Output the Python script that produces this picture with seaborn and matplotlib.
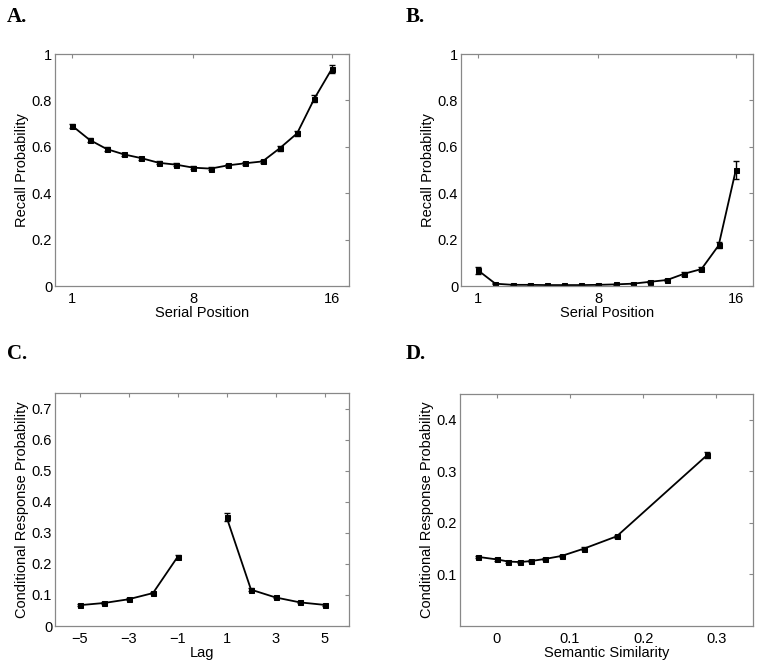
import numpy as np
import pandas as pd
import seaborn as sns
import matplotlib.pyplot as plt

# Panel A: immediate free recall serial position curve
serial_pos = list(range(1, 17))
recall_a = [0.69, 0.63, 0.59, 0.567, 0.551, 0.531, 0.523, 0.510, 0.506, 0.520,
            0.529, 0.537, 0.594, 0.658, 0.808, 0.935]
err_a = [0.010, 0.010, 0.009, 0.008, 0.007, 0.007, 0.006, 0.007, 0.007, 0.006,
         0.006, 0.007, 0.010, 0.011, 0.016, 0.018]

# Panel B: first recall probability
recall_b = [0.067, 0.010, 0.005, 0.005, 0.004, 0.004, 0.004, 0.005, 0.007, 0.010,
            0.018, 0.026, 0.053, 0.073, 0.175, 0.500]
err_b = [0.016, 0.003, 0.002, 0.002, 0.002, 0.002, 0.002, 0.002, 0.002, 0.003,
         0.003, 0.004, 0.009, 0.007, 0.013, 0.038]

# Panel C: lag-CRP
lags = [-5, -4, -3, -2, -1, 1, 2, 3, 4, 5]
crp_c = [0.067, 0.074, 0.086, 0.106, 0.222, 0.351, 0.117, 0.092, 0.076, 0.068]
err_c = [0.003, 0.003, 0.003, 0.004, 0.007, 0.014, 0.004, 0.003, 0.003, 0.003]

# Panel D: semantic CRP
sem_sim = [-0.025, 0.001, 0.016, 0.032, 0.047, 0.066, 0.089, 0.119, 0.164, 0.287]
crp_d = [0.134, 0.129, 0.125, 0.124, 0.126, 0.130, 0.136, 0.150, 0.174, 0.331]
err_d = [0.002, 0.002, 0.002, 0.002, 0.002, 0.002, 0.002, 0.003, 0.003, 0.006]

sns.set_style("white")
plt.rcParams['font.family'] = ['Liberation Sans', 'DejaVu Sans']
plt.rcParams['text.color'] = 'black'
plt.rcParams['axes.labelcolor'] = 'black'

fig = plt.figure(figsize=(7.62, 6.64), dpi=100)
W, H = 762.0, 664.0

def make_ax(l, t, r, b):
    return fig.add_axes([l / W, 1 - b / H, (r - l) / W, (b - t) / H])

axA = make_ax(55, 54, 349, 286)
axB = make_ax(461, 54, 753, 286)
axC = make_ax(55, 393, 349, 626)
axD = make_ax(460, 394, 753, 626)

def draw(ax, x, y, e, group=None):
    df = pd.DataFrame({"x": x, "y": y, "e": e})
    df["g"] = group if group is not None else 0
    for _, sub in df.groupby("g"):
        sns.lineplot(data=sub, x="x", y="y", ax=ax, color="black", lw=1.3,
                     marker="s", markersize=3.6, markeredgecolor="black",
                     estimator=None, sort=False)
    ax.errorbar(df["x"], df["y"], yerr=df["e"], fmt="none", ecolor="black",
                elinewidth=1.0, capsize=2.3, capthick=1.0)

def style(ax):
    for s in ax.spines.values():
        s.set_color("#888888")
        s.set_linewidth(0.9)
    ax.tick_params(direction="in", length=3, width=0.8, color="#888888",
                   labelcolor="black", top=True, right=True, labelsize=10.5)
    ax.tick_params(axis="x", pad=4)
    ax.tick_params(axis="y", pad=2)
    ax.xaxis.labelpad = 0
    ax.yaxis.labelpad = 2

draw(axA, serial_pos, recall_a, err_a)
axA.set_xlim(0, 17)
axA.set_ylim(0, 1)
axA.set_xticks([1, 8, 16])
axA.set_yticks([0, 0.2, 0.4, 0.6, 0.8, 1])
axA.set_yticklabels(["0", "0.2", "0.4", "0.6", "0.8", "1"])
axA.set_xlabel("Serial Position", fontsize=10.5)
axA.set_ylabel("Recall Probability", fontsize=10.5)

draw(axB, serial_pos, recall_b, err_b)
axB.set_xlim(0, 17)
axB.set_ylim(0, 1)
axB.set_xticks([1, 8, 16])
axB.set_yticks([0, 0.2, 0.4, 0.6, 0.8, 1])
axB.set_yticklabels(["0", "0.2", "0.4", "0.6", "0.8", "1"])
axB.set_xlabel("Serial Position", fontsize=10.5)
axB.set_ylabel("Recall Probability", fontsize=10.5)

draw(axC, lags, crp_c, err_c, group=[0 if l < 0 else 1 for l in lags])
axC.set_xlim(-6, 6)
axC.set_ylim(0, 0.75)
axC.set_xticks([-5, -3, -1, 1, 3, 5])
axC.set_xticklabels(["\u22125", "\u22123", "\u22121", "1", "3", "5"])
axC.set_yticks([0, 0.1, 0.2, 0.3, 0.4, 0.5, 0.6, 0.7])
axC.set_yticklabels(["0", "0.1", "0.2", "0.3", "0.4", "0.5", "0.6", "0.7"])
axC.set_xlabel("Lag", fontsize=10.5)
axC.set_ylabel("Conditional Response Probability", fontsize=10.5)

draw(axD, sem_sim, crp_d, err_d)
axD.set_xlim(-0.05, 0.35)
axD.set_ylim(0, 0.45)
axD.set_xticks([0, 0.1, 0.2, 0.3])
axD.set_xticklabels(["0", "0.1", "0.2", "0.3"])
axD.set_yticks([0.1, 0.2, 0.3, 0.4])
axD.set_yticklabels(["0.1", "0.2", "0.3", "0.4"])
axD.set_xlabel("Semantic Similarity", fontsize=10.5)
axD.set_ylabel("Conditional Response Probability", fontsize=10.5)

for ax in (axA, axB, axC, axD):
    style(ax)

for lab, x, y in [("A.", 7, 7), ("B.", 406, 7), ("C.", 7, 344), ("D.", 406, 344)]:
    fig.text(x / W, 1 - y / H, lab, fontsize=15, fontweight="bold", color="black",
             family=["Liberation Serif", "DejaVu Serif"], va="top", ha="left")

fig.savefig("out.png", dpi=100)
